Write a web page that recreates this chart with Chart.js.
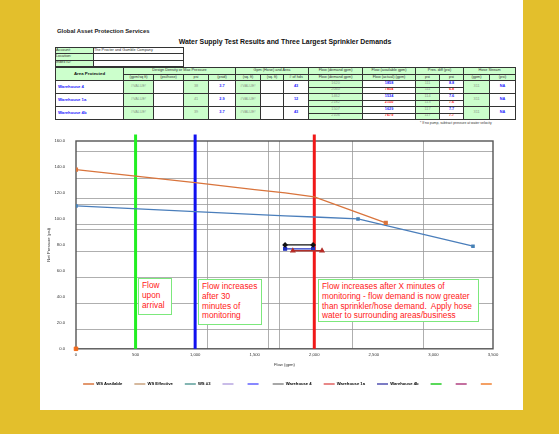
<!DOCTYPE html>
<html><head><meta charset="utf-8">
<script src="https://cdn.jsdelivr.net/npm/chart.js@4.4.1/dist/chart.umd.min.js"></script>
<style>
html,body{margin:0;padding:0;}
body{width:559px;height:434px;background:#E3BF2C;position:relative;overflow:hidden;font-family:"Liberation Sans",Arial,sans-serif;}
#page{position:absolute;left:40px;top:0;width:483px;height:410px;background:#fff;}
.abs{position:absolute;}
#org{left:57px;top:28px;font-size:5.9px;font-weight:bold;color:#222;}
#ttl{left:150px;width:270px;top:38px;font-size:6.9px;font-weight:bold;text-align:center;color:#111;}
table{border-collapse:collapse;table-layout:fixed;position:absolute;}
td{border:0.6px solid #333;padding:0;font-size:3.8px;line-height:1;text-align:center;vertical-align:middle;overflow:hidden;white-space:nowrap;color:#333;}
.g{background:#CCFFCC;}
.w{background:#fff;}
.b{color:#1a1aff;font-weight:bold;}
.r{color:#ff1a1a;font-weight:bold;}
.gr{color:#8a9a8a;}
.lbl{text-align:left;padding-left:2px;color:#1a1aff;font-weight:bold;font-size:4.2px;}
#foot{left:420px;top:121px;font-size:3.4px;color:#333;}
#chartwrap{position:absolute;left:40px;top:128px;width:480px;height:272px;}
.note{position:absolute;border:1px solid #7CE87C;background:#fff;color:#ff2020;font-size:8.3px;line-height:9.8px;padding:2px 0 0 3px;box-sizing:border-box;white-space:nowrap;}
</style></head>
<body>
<div id="page"></div>
<div class="abs" id="org">Global Asset Protection Services</div>
<div class="abs" id="ttl">Water Supply Test Results and Three Largest Sprinkler Demands</div>
<table style="left:55px;top:47px;width:128px;">
<colgroup><col style="width:38px"><col style="width:90px"></colgroup>
<tr style="height:6.3px"><td class="g" style="text-align:left">Account:</td><td style="text-align:left">The Procter and Gamble Company</td></tr>
<tr style="height:6.3px"><td class="g" style="text-align:left">Location:</td><td></td></tr>
<tr style="height:6.3px"><td class="g" style="text-align:left">Index ID:</td><td></td></tr>
</table>
<table style="left:55px;top:67px;width:460px;">
<colgroup>
<col style="width:68px"><col style="width:30px"><col style="width:30px"><col style="width:25px"><col style="width:27px"><col style="width:25px"><col style="width:23px"><col style="width:25px"><col style="width:54px"><col style="width:53px"><col style="width:24px"><col style="width:24px"><col style="width:26px"><col style="width:26px">
</colgroup>
<tr style="height:7px"><td class="g" rowspan="2" style="font-weight:bold;font-size:4.4px;color:#111">Area Protected</td><td class="g" colspan="4">Design Density or Max Pressure</td><td class="g" colspan="3">Gpm (Hose) and Area</td><td class="g">Flow (demand gpm)</td><td class="g">Flow (available gpm)</td><td class="g" colspan="2">Pres. diff (psi)</td><td class="g" colspan="2">Hose Stream</td></tr>
<tr style="height:6px"><td class="g">(gpm/sq ft)</td><td class="g">(psi/hose)</td><td class="g">psi</td><td class="g">(psid)</td><td class="g">(sq. ft)</td><td class="g">(sq. ft)</td><td class="g"># of hds</td><td class="g">Flow (demand gpm)</td><td class="g">Flow (actual) (gpm)</td><td class="g">psi</td><td class="g">psi</td><td class="g">(gpm)</td><td class="g">(psi)</td></tr>
<tr style="height:6.5px"><td class="w lbl" rowspan="2">Warehouse 4</td><td class="g gr" rowspan="2">#VALUE!</td><td class="w" rowspan="2"></td><td class="g gr" rowspan="2">38</td><td class="w b" rowspan="2">3.7</td><td class="g gr" rowspan="2">#VALUE!</td><td class="w" rowspan="2"></td><td class="w b" rowspan="2">43</td><td class="g gr">1620</td><td class="w b">1858</td><td class="g gr">111</td><td class="w b">8.8</td><td class="g gr" rowspan="2">311</td><td class="w b" rowspan="2">NA</td></tr>
<tr style="height:6.5px"><td class="g gr">2060</td><td class="w r">7854</td><td class="g gr">111</td><td class="w r">6.8</td></tr>
<tr style="height:6.5px"><td class="w lbl" rowspan="2">Warehouse 1a</td><td class="g gr" rowspan="2">#VALUE!</td><td class="w" rowspan="2"></td><td class="g gr" rowspan="2">41</td><td class="w b" rowspan="2">2.9</td><td class="g gr" rowspan="2">#VALUE!</td><td class="w" rowspan="2"></td><td class="w b" rowspan="2">12</td><td class="g gr">1462</td><td class="w b">1534</td><td class="g gr">114</td><td class="w b">7.6</td><td class="g gr" rowspan="2">311</td><td class="w b" rowspan="2">NA</td></tr>
<tr style="height:6.5px"><td class="g gr">2182</td><td class="w r">2150</td><td class="g gr">113</td><td class="w r">7.6</td></tr>
<tr style="height:6.5px"><td class="w lbl" rowspan="2">Warehouse 4b</td><td class="g gr" rowspan="2">#VALUE!</td><td class="w" rowspan="2"></td><td class="g gr" rowspan="2">39</td><td class="w b" rowspan="2">3.7</td><td class="g gr" rowspan="2">#VALUE!</td><td class="w" rowspan="2"></td><td class="w b" rowspan="2">43</td><td class="g gr">1507</td><td class="w b">1629</td><td class="g gr">117</td><td class="w b">7.7</td><td class="g gr" rowspan="2">311</td><td class="w b" rowspan="2">NA</td></tr>
<tr style="height:6.5px"><td class="g gr">2106</td><td class="w r">7679</td><td class="g gr">117</td><td class="w r">7.7</td></tr>
</table>
<div class="abs" id="foot">* If no pump, subtract pressure at water velocity</div>

<div id="chartwrap"><canvas id="c"></canvas></div>
<div class="note" style="left:138px;top:278px;width:34px;height:37px;">Flow<br>upon<br>arrival</div>
<div class="note" style="left:198px;top:279px;width:64px;height:46px;">Flow increases<br>after 30<br>minutes of<br>monitoring</div>
<div class="note" style="left:318px;top:279px;width:161px;height:43px;">Flow increases after X minutes of<br>monitoring - flow demand is now greater<br>than sprinkler/hose demand.&nbsp; Apply hose<br>water to surrounding areas/business</div>

<script>
// ---- data ----
const xTickValues = [0, 500, 1000, 1500, 2000, 2500, 3000, 3500];
const yTickValues = [0, 20, 40, 60, 80, 100, 120, 140, 160];

const supplyAvailFlow = [0, 500, 1000, 1500, 1755, 2000, 2600];
const supplyAvailPsi  = [138, 133, 128, 122.5, 120, 117, 97];

const supplyOriginFlow = [0];
const supplyOriginPsi  = [0];

const supply3Flow = [0, 1000, 1755, 2000, 2367, 3332];
const supply3Psi  = [110, 105.6, 102.3, 101.5, 100, 79];

const demand4Flow  = [1755, 1990];
const demand4Psi   = [80, 80];
const demand1aFlow = [1820, 2065];
const demand1aPsi  = [75.5, 75.5];
const demand4bFlow = [1755, 1990];
const demand4bPsi  = [77, 77];

const arrivalFlow   = [500, 500];
const after30Flow   = [1000, 1000];
const afterXFlow    = [2000, 2000];
const verticalPsi   = [0, 165];

const extraGridPsi  = [152.3, 131.5, 116, 111.5, 96, 92.3, 75.4, 55.4, 35.4, 15.4];
const extraGridFlow = [1100, 1611, 1704, 2317, 2912];

const legendLabels = ["WS Available", "WS Effective", "WS #3", "", "", "Warehouse 4", "Warehouse 1a", "Warehouse 4b", "", "", ""];

function pts(xs, ys){ return xs.map((x,i)=>({x:x, y:ys[i]})); }

const datasets = [
  {label: legendLabels[0], data: pts(supplyAvailFlow, supplyAvailPsi), borderColor:'#D9743C', backgroundColor:'#D9743C', borderWidth:1.3,
    pointRadius: ctx => (ctx.dataIndex===0 || ctx.dataIndex===supplyAvailFlow.length-1) ? 2 : 0, pointStyle:'rect', legendColor:'#D9743C'},
  {label: legendLabels[1], data: pts(supplyOriginFlow, supplyOriginPsi), borderColor:'#F26A1B', backgroundColor:'#F26A1B', borderWidth:1,
    pointRadius: 2.5, pointStyle:'rect', clip:false, legendColor:'#C9A27E'},
  {label: legendLabels[2], data: pts(supply3Flow, supply3Psi), borderColor:'#4A7EBB', backgroundColor:'#2E9E8F', borderWidth:1.3,
    pointRadius: ctx => ([0,4,5].includes(ctx.dataIndex)) ? 1.6 : 0, pointStyle:'rect', legendColor:'#5B9E9A'},
  {label: legendLabels[3], data: [], borderColor:'#B7A6E0', backgroundColor:'#B7A6E0', legendColor:'#B7A6E0'},
  {label: legendLabels[4], data: [], borderColor:'#6060FF', backgroundColor:'#6060FF', legendColor:'#6060FF'},
  {label: legendLabels[5], data: pts(demand4Flow, demand4Psi), borderColor:'#111', backgroundColor:'#111', borderWidth:1.3,
    pointRadius:2, pointStyle:'rectRot', legendColor:'#8a8a8a'},
  {label: legendLabels[6], data: pts(demand1aFlow, demand1aPsi), borderColor:'#B0302A', backgroundColor:'#E01010', borderWidth:1.3,
    pointRadius:2.2, pointStyle:'triangle', legendColor:'#E06060'},
  {label: legendLabels[7], data: pts(demand4bFlow, demand4bPsi), borderColor:'#2030C0', backgroundColor:'#2030C0', borderWidth:1.3,
    pointRadius:2, pointStyle:'rect', legendColor:'#5050B0'},
  {label: legendLabels[8], data: pts(arrivalFlow, verticalPsi), borderColor:'#22EE22', backgroundColor:'#22EE22', borderWidth:3,
    pointRadius:0, clip:false, legendColor:'#22CC22'},
  {label: legendLabels[9], data: pts(after30Flow, verticalPsi), borderColor:'#1010F0', backgroundColor:'#1010F0', borderWidth:3,
    pointRadius:0, clip:false, legendColor:'#B04080'},
  {label: legendLabels[10], data: pts(afterXFlow, verticalPsi), borderColor:'#F01818', backgroundColor:'#F01818', borderWidth:3,
    pointRadius:0, clip:false, legendColor:'#F08030'}
];

const framePlugin = {
  id:'frame',
  afterUpdate(chart){
    const lg = chart.legend;
    if (lg) { lg.left += 22; lg.right += 22; lg.top -= 3; lg.bottom -= 3; }
  },
  beforeDatasetsDraw(chart){
    const {ctx, chartArea:a, scales:{x,y}} = chart;
    ctx.save();
    ctx.strokeStyle = '#9a9a9a';
    ctx.lineWidth = 0.8;
    extraGridPsi.forEach(v=>{ const py=Math.round(y.getPixelForValue(v))+0.5; ctx.beginPath(); ctx.moveTo(a.left,py); ctx.lineTo(a.right,py); ctx.stroke(); });
    extraGridFlow.forEach(v=>{ const px=Math.round(x.getPixelForValue(v))+0.5; ctx.beginPath(); ctx.moveTo(px,a.top); ctx.lineTo(px,a.bottom); ctx.stroke(); });
    ctx.strokeStyle = '#555';
    ctx.lineWidth = 1.4;
    ctx.strokeRect(a.left, a.top, a.right-a.left, a.bottom-a.top);
    ctx.restore();
  }
};

new Chart(document.getElementById('c'), {
  type:'line',
  data:{datasets},
  plugins:[framePlugin],
  options:{
    responsive:true, maintainAspectRatio:false, animation:false,
    layout:{padding:{top:13, right:27, left:0, bottom:1}},
    elements:{line:{tension:0}},
    scales:{
      x:{type:'linear', min:0, max:3500,
        afterBuildTicks(s){ s.ticks = xTickValues.map(v=>({value:v})); },
        afterFit(s){ s.height = 24; },
        grid:{display:false, drawTicks:false}, border:{display:false},
        ticks:{font:{size:4.2, family:'Liberation Sans'}, color:'#333', padding:4, maxRotation:0,
          callback:v=>v.toLocaleString('en-US')},
        title:{display:true, text:'Flow (gpm)', font:{size:4.2, family:'Liberation Sans'}, color:'#333', padding:{top:1, bottom:5}}
      },
      y:{type:'linear', min:0, max:160,
        afterBuildTicks(s){ s.ticks = yTickValues.map(v=>({value:v})); },
        afterFit(s){ s.width = 36; },
        grid:{display:false}, border:{display:false},
        ticks:{font:{size:4.2, family:'Liberation Sans'}, color:'#333', padding:3,
          callback:v=>v.toFixed(1)},
        title:{display:true, text:'Net Pressure (psi)', font:{size:4.2, family:'Liberation Sans'}, color:'#333', padding:{top:6, bottom:2}}
      }
    },
    plugins:{
      tooltip:{enabled:false},
      legend:{position:'bottom',
        labels:{boxWidth:11, boxHeight:1.5, padding:12, color:'#222', font:{size:4.2, weight:'bold', family:'Liberation Sans'},
          generateLabels(chart){
            return chart.data.datasets.map((d,i)=>({text:d.label, fillStyle:d.legendColor, strokeStyle:d.legendColor, lineWidth:0, hidden:false, datasetIndex:i}));
          }}
      }
    }
  }
});
</script>
</body></html>
